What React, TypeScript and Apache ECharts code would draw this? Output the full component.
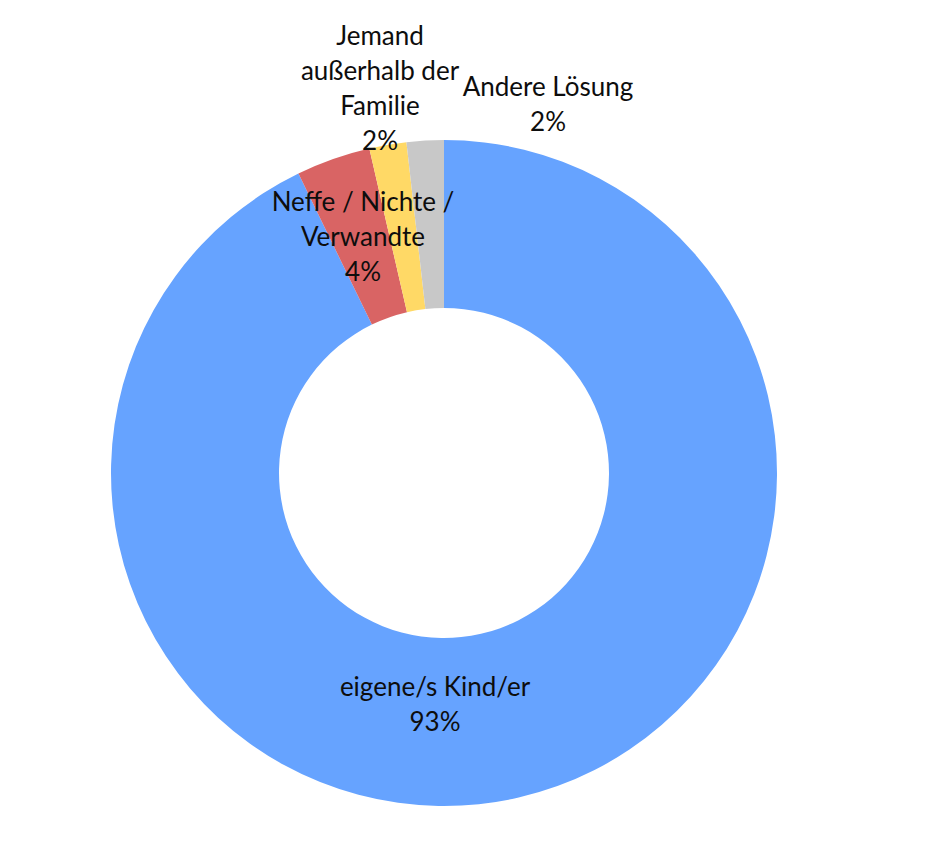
import * as echarts from "echarts";
import { useEffect, useRef } from "react";

// Kategorien und Anteile (in %), im Uhrzeigersinn ab 12 Uhr
const categories = [
  "eigene/s Kind/er",
  "Neffe / Nichte /\nVerwandte",
  "Jemand\naußerhalb der\nFamilie",
  "Andere Lösung",
];
const shares = [92.8, 3.6, 1.8, 1.8];
const colors = ["#66A3FF", "#D96464", "#FFD966", "#C8C8C8"];

// Lage der Beschriftungen (Mitte des Textblocks)
const labelPos = [
  [435, 703],
  [363, 236],
  [380, 87],
  [548, 103],
];

const App = () => {
  const chartRef = useRef<HTMLDivElement | null>(null);

  useEffect(() => {
    document.body.style.margin = "0";
    const chart = echarts.init(chartRef.current!, null, { renderer: "svg" });
    const total = shares.reduce((a, b) => a + b, 0);

    chart.setOption({
      animation: false,
      backgroundColor: "#ffffff",
      series: [
        {
          type: "pie",
          center: [444, 473],
          radius: [165, 333],
          startAngle: 90,
          clockwise: true,
          avoidLabelOverlap: false,
          emphasis: { disabled: true },
          itemStyle: { borderWidth: 0 },
          labelLine: { show: false },
          label: {
            show: true,
            position: "inside",
            color: "#0D0D0D",
            fontFamily: "Lato",
            fontSize: 26,
            lineHeight: 35,
            align: "center",
            formatter: (p: any) =>
              `${p.name}\n${Math.round((p.value / total) * 100)}%`,
          },
          labelLayout: (params: any) => ({
            x: labelPos[params.dataIndex][0],
            y: labelPos[params.dataIndex][1],
            align: "center",
            verticalAlign: "middle",
          }),
          data: categories.map((name, i) => ({
            name,
            value: shares[i],
            itemStyle: { color: colors[i] },
          })),
        },
      ],
    });

    return () => {
      chart.dispose();
    };
  }, []);

  return <div ref={chartRef} style={{ width: "942px", height: "843px" }} />;
};

export default App;
